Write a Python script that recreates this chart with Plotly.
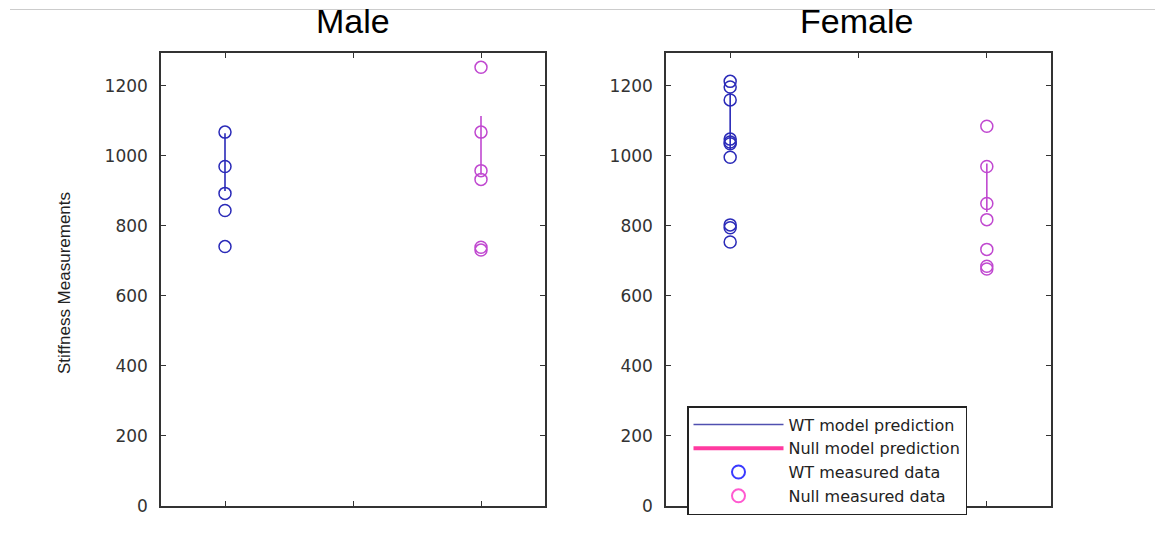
import plotly.graph_objects as go

# ---- data ----
panels = ["Male", "Female"]
groups = ["WT", "Null"]
group_x = [1, 2]

male_wt = [1068, 970, 893, 844, 741]
male_null = [1253, 1068, 958, 933, 739, 731]
male_wt_pred = [900, 1065]
male_null_pred = [946, 1114]

female_wt = [1213, 1197, 1160, 1048, 1040, 1035, 996, 803, 795, 754]
female_null = [1085, 970, 864, 818, 733, 685, 677]
female_wt_pred = [1020, 1180]
female_null_pred = [840, 978]

y_ticks = [0, 200, 400, 600, 800, 1000, 1200]
x_ticks = [1, 1.5, 2]

legend_labels = ["WT model prediction", "Null model prediction",
                 "WT measured data", "Null measured data"]

# ---- styles ----
WT_COL = "#2a2ab8"
NULL_COL = "#c048d0"
W, H = 1155, 537

fig = go.Figure()

data = [
    (male_wt, male_null, male_wt_pred, male_null_pred, "x", "y"),
    (female_wt, female_null, female_wt_pred, female_null_pred, "x2", "y2"),
]

for wt, nl, wtp, nlp, xa, ya in data:
    fig.add_trace(go.Scatter(x=[group_x[0]] * len(wtp), y=wtp, mode="lines",
                             line=dict(color=WT_COL, width=1.6),
                             showlegend=False, xaxis=xa, yaxis=ya))
    fig.add_trace(go.Scatter(x=[group_x[1]] * len(nlp), y=nlp, mode="lines",
                             line=dict(color=NULL_COL, width=1.6),
                             showlegend=False, xaxis=xa, yaxis=ya))
    fig.add_trace(go.Scatter(x=[group_x[0]] * len(wt), y=wt, mode="markers",
                             marker=dict(symbol="circle-open", size=12,
                                         color=WT_COL, line=dict(width=1.5)),
                             showlegend=False, xaxis=xa, yaxis=ya))
    fig.add_trace(go.Scatter(x=[group_x[1]] * len(nl), y=nl, mode="markers",
                             marker=dict(symbol="circle-open", size=12,
                                         color=NULL_COL, line=dict(width=1.5)),
                             showlegend=False, xaxis=xa, yaxis=ya))

# legend entries
fig.add_trace(go.Scatter(x=[None], y=[None], mode="lines", name=legend_labels[0],
                         line=dict(color="#5050b0", width=1.5), xaxis="x2", yaxis="y2"))
fig.add_trace(go.Scatter(x=[None], y=[None], mode="lines", name=legend_labels[1],
                         line=dict(color="#ff3aa0", width=4), xaxis="x2", yaxis="y2"))
fig.add_trace(go.Scatter(x=[None], y=[None], mode="markers", name=legend_labels[2],
                         marker=dict(symbol="circle-open", size=13, color="#3a3aff",
                                     line=dict(width=2)), xaxis="x2", yaxis="y2"))
fig.add_trace(go.Scatter(x=[None], y=[None], mode="markers", name=legend_labels[3],
                         marker=dict(symbol="circle-open", size=13, color="#ff5ad0",
                                     line=dict(width=2)), xaxis="x2", yaxis="y2"))

frame = dict(showline=True, linecolor="#333", linewidth=1.5, mirror="allticks",
             ticks="inside", ticklen=5, tickcolor="#333", showgrid=False,
             zeroline=False, automargin=False)

ydom = [1 - 506 / H, 1 - 53 / H]
xaxis_common = dict(range=[0.75, 2.25], tickvals=x_ticks, showticklabels=False, **frame)
yaxis_common = dict(range=[0, 1294], tickvals=y_ticks,
                    tickfont=dict(family="DejaVu Sans", size=17, color="#333"),
                    ticklabelstandoff=8,
                    **frame)

fig.update_layout(
    width=W, height=H,
    margin=dict(l=0, r=0, t=0, b=0, autoexpand=False),
    paper_bgcolor="white", plot_bgcolor="white",
    xaxis=dict(domain=[161 / W, 545 / W], anchor="y", **xaxis_common),
    yaxis=dict(domain=ydom, anchor="x", **yaxis_common),
    xaxis2=dict(domain=[666 / W, 1051 / W], anchor="y2", **xaxis_common),
    yaxis2=dict(domain=ydom, anchor="x2", **yaxis_common),
    legend=dict(x=687 / W, y=1 - 406 / H, xanchor="left", yanchor="top",
                bordercolor="#222", borderwidth=1.5, bgcolor="white",
                font=dict(family="DejaVu Sans", size=16, color="#222"),
                itemwidth=90, tracegroupgap=0),
    showlegend=True,
)

# panel titles
for name, cx in zip(panels, [353, 856]):
    fig.add_annotation(text=name, x=cx / W, y=1 - 21 / H, xref="paper", yref="paper",
                       showarrow=False, xanchor="center", yanchor="middle",
                       font=dict(family="Liberation Sans, Arial", size=34, color="black"))

# y-axis title
fig.add_annotation(text="Stiffness Measurements", x=64 / W, y=1 - 283 / H,
                   xref="paper", yref="paper", showarrow=False, textangle=-90,
                   xanchor="center", yanchor="middle",
                   font=dict(family="Liberation Sans Narrow, Liberation Sans, Arial",
                             size=17, color="#222"))

# thin top rule
fig.add_shape(type="line", xref="paper", yref="paper", x0=10 / W, x1=1,
              y0=1 - 9.5 / H, y1=1 - 9.5 / H, line=dict(color="#cccccc", width=1))

fig.write_html("out.html")
